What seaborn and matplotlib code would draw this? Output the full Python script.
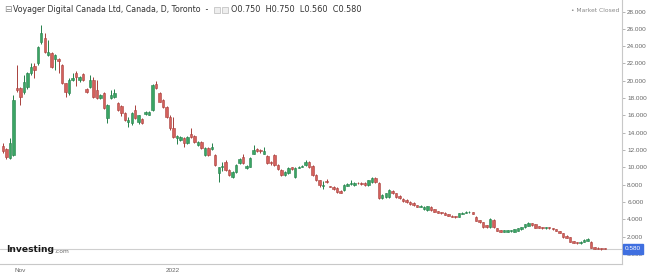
import numpy as np
import pandas as pd
import matplotlib
matplotlib.use("Agg")
import matplotlib.pyplot as plt
import seaborn as sns

# ---- data (CAD, daily OHLC) ----
opens = [12.5, 12.1, 11.1, 11.4, 19.2, 19.2, 18.7, 19.3, 20.9, 21.7,
         22.0, 24.5, 24.9, 23.0, 23.2, 22.5, 22.5, 21.8, 19.7, 18.6,
         20.1, 20.9, 20.1, 20.8, 19.1, 19.3, 20.1, 18.9, 18.0, 18.6,
         15.7, 18.0, 18.1, 17.4, 17.1, 16.3, 15.2, 15.1, 16.6, 15.2,
         15.6, 16.2, 16.1, 16.6, 19.6, 18.6, 17.8, 17.0, 15.8, 14.5,
         13.4, 13.2, 13.4, 12.8, 13.9, 13.6, 12.6, 12.9, 11.4, 12.2,
         12.1, 11.4, 9.4, 10.1, 10.6, 9.7, 8.9, 9.5, 10.5, 11.2,
         9.9, 10.1, 11.6, 12.1, 12.0, 11.6, 11.3, 10.6, 11.4, 10.3,
         9.7, 9.1, 9.3, 10.0, 8.9, 9.95, 10.05, 10.3, 10.6, 10.2,
         9.1, 8.5, 7.85, 8.4, 7.85, 7.7, 7.6, 7.3, 7.4, 7.9,
         8.1, 8.0, 8.25, 8.2, 8.2, 8.0, 8.3, 8.8, 8.2, 6.5,
         6.6, 6.6, 7.3, 7.05, 6.7, 6.4, 6.2, 6.0, 5.9, 5.65,
         5.45, 5.2, 5.1, 5.4, 5.2, 4.95, 4.85, 4.75, 4.6, 4.4,
         4.3, 4.3, 4.65, 4.75, 4.8, 4.8, 4.3, 3.9, 3.7, 3.3,
         3.1, 3.9, 3.0, 2.75, 2.55, 2.55, 2.6, 2.55, 2.7, 2.85,
         3.1, 3.25, 3.55, 3.45, 3.2, 3.1, 2.95, 3.1, 3.0, 2.85,
         2.65, 2.4, 2.1, 1.95, 1.5, 1.35, 1.25, 1.4, 1.5, 1.4,
         0.8, 0.75, 0.7, 0.75]
highs = [12.8, 12.2, 13.4, 18.4, 21.8, 19.3, 20.7, 21.0, 22.1, 22.1,
         24.0, 26.4, 25.5, 24.7, 23.3, 23.1, 22.6, 21.9, 19.8, 20.3,
         20.9, 21.1, 20.6, 20.9, 19.2, 20.7, 20.4, 20.1, 18.5, 18.7,
         17.3, 18.9, 19.0, 17.5, 17.2, 16.4, 15.8, 16.4, 17.2, 16.1,
         15.7, 16.5, 16.5, 19.6, 20.0, 18.7, 17.9, 17.1, 16.0, 15.8,
         13.7, 13.6, 13.5, 13.6, 14.6, 13.7, 13.0, 13.0, 12.3, 12.3,
         12.8, 11.5, 10.1, 10.6, 10.9, 9.8, 9.6, 10.4, 11.1, 11.6,
         10.3, 11.2, 12.6, 12.2, 12.1, 12.4, 11.4, 10.7, 11.6, 10.4,
         9.8, 9.6, 10.0, 10.1, 10.0, 10.2, 10.3, 10.9, 10.7, 10.3,
         9.2, 8.6, 8.4, 8.7, 7.9, 7.8, 7.7, 7.4, 8.1, 8.2,
         8.6, 8.3, 8.3, 8.3, 8.3, 8.6, 8.9, 8.9, 8.3, 6.9,
         7.1, 7.5, 7.4, 7.1, 6.8, 6.5, 6.3, 6.1, 6.0, 5.7,
         5.7, 5.5, 5.6, 5.5, 5.25, 5.0, 4.9, 4.8, 4.65, 4.45,
         4.4, 4.75, 4.8, 4.95, 5.0, 4.85, 4.35, 3.95, 3.75, 3.35,
         4.1, 4.0, 3.05, 2.8, 2.8, 2.8, 2.8, 2.9, 3.05, 3.15,
         3.5, 3.65, 3.6, 3.5, 3.25, 3.15, 3.15, 3.15, 3.05, 2.9,
         2.7, 2.45, 2.15, 2.0, 1.55, 1.4, 1.45, 1.7, 1.8, 1.45,
         0.85, 0.8, 0.75, 0.75]
lows = [11.7, 11.0, 11.0, 11.3, 18.7, 17.2, 18.5, 19.0, 20.7, 20.3,
        21.8, 24.3, 23.2, 22.9, 21.5, 21.3, 20.9, 19.6, 18.1, 18.4,
        20.0, 19.4, 19.9, 20.0, 18.6, 19.2, 18.0, 17.9, 17.9, 16.8,
        15.1, 17.9, 18.0, 16.5, 15.9, 15.4, 14.7, 14.9, 15.6, 15.0,
        15.0, 16.1, 16.0, 16.5, 19.1, 17.5, 16.9, 15.7, 14.3, 13.4,
        12.7, 13.1, 12.3, 12.7, 13.4, 12.8, 12.5, 12.1, 11.3, 11.3,
        12.0, 10.2, 8.3, 9.6, 9.6, 9.0, 8.8, 9.4, 10.4, 10.4,
        9.8, 10.0, 11.5, 11.8, 11.7, 11.5, 10.4, 10.3, 10.2, 9.7,
        9.0, 9.0, 9.2, 9.7, 8.8, 9.9, 10.0, 10.2, 9.9, 9.0,
        8.4, 7.7, 7.5, 8.2, 7.7, 7.4, 7.1, 7.0, 7.3, 7.8,
        8.0, 7.9, 8.1, 8.0, 7.9, 7.9, 8.2, 8.2, 6.4, 6.4,
        6.5, 6.5, 6.9, 6.5, 6.4, 6.0, 5.9, 5.7, 5.6, 5.4,
        5.4, 5.1, 5.0, 5.0, 4.8, 4.7, 4.65, 4.45, 4.35, 4.25,
        4.2, 4.25, 4.6, 4.7, 4.75, 4.6, 3.8, 3.6, 3.0, 3.0,
        3.0, 3.0, 2.6, 2.5, 2.5, 2.5, 2.55, 2.5, 2.65, 2.8,
        3.05, 3.2, 3.25, 2.95, 2.95, 2.9, 2.9, 2.9, 2.8, 2.65,
        2.4, 1.9, 1.85, 1.35, 1.25, 1.2, 1.2, 1.35, 1.45, 0.65,
        0.6, 0.58, 0.5, 0.56]
closes = [11.9, 11.2, 12.8, 17.8, 18.9, 18.1, 19.9, 20.9, 21.6, 21.2,
          23.9, 25.5, 23.3, 23.3, 21.6, 23.0, 22.3, 19.7, 18.7, 20.1,
          20.3, 20.4, 20.4, 20.1, 18.7, 20.1, 18.1, 18.0, 18.4, 16.9,
          17.2, 18.4, 18.6, 16.6, 16.3, 15.5, 15.5, 16.3, 15.7, 16.0,
          15.1, 16.4, 16.4, 19.5, 19.2, 17.6, 17.0, 15.8, 14.5, 13.5,
          13.6, 13.5, 12.8, 13.5, 13.5, 12.9, 12.9, 12.2, 12.2, 11.4,
          12.3, 10.3, 10.0, 10.2, 9.7, 9.1, 9.5, 10.3, 11.0, 10.5,
          10.2, 11.1, 12.0, 11.9, 11.9, 11.9, 10.5, 10.5, 10.3, 9.8,
          9.1, 9.5, 9.9, 9.8, 9.9, 10.05, 10.15, 10.6, 10.0, 9.1,
          8.5, 8.0, 7.95, 8.3, 7.75, 7.5, 7.2, 7.05, 8.0, 8.1,
          8.2, 8.2, 8.15, 8.1, 8.0, 8.5, 8.8, 8.3, 6.5, 6.8,
          7.0, 7.4, 7.05, 6.6, 6.45, 6.1, 6.0, 5.8, 5.65, 5.45,
          5.6, 5.4, 5.55, 5.1, 4.9, 4.75, 4.7, 4.5, 4.4, 4.3,
          4.28, 4.7, 4.75, 4.85, 4.9, 4.65, 3.85, 3.7, 3.1, 3.1,
          4.0, 3.1, 2.65, 2.55, 2.75, 2.75, 2.75, 2.85, 3.0, 3.1,
          3.45, 3.55, 3.3, 3.0, 3.0, 2.95, 3.1, 2.95, 2.85, 2.7,
          2.45, 1.95, 1.9, 1.4, 1.3, 1.25, 1.4, 1.6, 1.7, 0.7,
          0.62, 0.62, 0.55, 0.58]

month_ticks = [4.9, 27.6, 48.9, 69.5, 88.8]
month_labels = ["Nov", "", "2022", "", ""]
title_text = "Voyager Digital Canada Ltd, Canada, D, Toronto"

df = pd.DataFrame({"open": opens, "high": highs, "low": lows, "close": closes})
df["idx"] = np.arange(len(df))
df["up"] = df["close"] >= df["open"]

sns.set_style("white")
plt.rcParams["font.family"] = ["DejaVu Sans"]

W, H = 647, 274
fig = plt.figure(figsize=(W / 100, H / 100), dpi=100)
ax = fig.add_axes([0, 10 / H, 622 / W, 264 / H])

GREEN, GREEN_E = "#3aa564", "#24804a"
RED, RED_E = "#d4605c", "#a8403c"

# price line
last = df["close"].iloc[-1]
ax.axhline(last, color="#cfcfcf", lw=0.8, zorder=1)

colors = np.where(df["up"], GREEN, RED)
ecolors = np.where(df["up"], GREEN_E, RED_E)
ax.vlines(df["idx"], df["low"], df["high"], colors=ecolors, lw=0.7, zorder=2)
body_bottom = np.minimum(df["open"], df["close"])
body_h = np.maximum(np.abs(df["close"] - df["open"]), 0.06)
ax.bar(df["idx"], body_h, bottom=body_bottom, width=0.7, color=colors,
       edgecolor=ecolors, linewidth=0.4, zorder=3)

ax.set_xlim(-0.86, 177.9)
ax.set_ylim(-1.155, 29.33)

tick_font = ["Liberation Sans", "DejaVu Sans"]

# y axis on right
ax.yaxis.tick_right()
yt = np.arange(0, 29, 2)
ax.set_yticks(yt)
ax.set_yticklabels([f"{v:.3f}" for v in yt], fontsize=4.6, color="#666666",
                   family=tick_font)
ax.tick_params(axis="y", direction="out", length=2.5, width=0.6, color="#aaaaaa",
               pad=1.2, right=True, left=False)
ax.set_xticks(month_ticks)
ax.set_xticklabels(month_labels, fontsize=4.6, color="#666666", family=tick_font)
ax.tick_params(axis="x", direction="out", length=2, width=0.6, color="#aaaaaa", pad=1)

for s in ["top", "left"]:
    ax.spines[s].set_visible(False)
ax.spines["right"].set_color("#c8c8c8")
ax.spines["bottom"].set_color("#c8c8c8")
ax.spines["right"].set_linewidth(0.8)
ax.spines["bottom"].set_linewidth(0.8)

# header
ax.text(4 / 622, 1 - 10 / 264, "\u229f", transform=ax.transAxes, fontsize=6.5,
        color="#888888", va="center", ha="left")
ax.text(13 / 622, 1 - 10 / 264, title_text + "  -", transform=ax.transAxes,
        fontsize=5.7, color="#333333", va="center", ha="left")
for xx in (214, 222):
    ax.add_patch(plt.Rectangle((xx / 622, 1 - 13 / 264), 6 / 622, 6 / 264,
                               transform=ax.transAxes, facecolor="#eeeeee",
                               edgecolor="#bbbbbb", lw=0.5))
o, h, l, c = opens[-1], highs[-1], lows[-1], closes[-1]
ax.text(231 / 622, 1 - 10 / 264, f"O{o:.3f}  H{h:.3f}  L{l:.3f}  C{c:.3f}",
        transform=ax.transAxes, fontsize=5.9, color="#333333", va="center", ha="left")
ax.text(619 / 622, 1 - 10 / 264, "\u2022 Market Closed", transform=ax.transAxes,
        fontsize=4.3, color="#888888", va="center", ha="right")

# logo
ax.text(6 / 622, (264 - 250) / 264, "Investing", transform=ax.transAxes,
        fontsize=6.6, fontweight="bold", color="#1a1a1a", va="center", ha="left")
ax.text(54 / 622, (264 - 251.5) / 264, ".com", transform=ax.transAxes,
        fontsize=4.3, color="#666666", va="center", ha="left")

# current price box
y_disp = ax.transData.transform((0, last))[1]
fig.text(633 / W, y_disp / H, f"{last:.3f}", fontsize=4.6, color="white",
         family=tick_font, ha="center", va="center",
         bbox=dict(boxstyle="square,pad=0.35", facecolor="#3f6fe0", edgecolor="#3f6fe0"))

fig.savefig("out.png", dpi=100)
